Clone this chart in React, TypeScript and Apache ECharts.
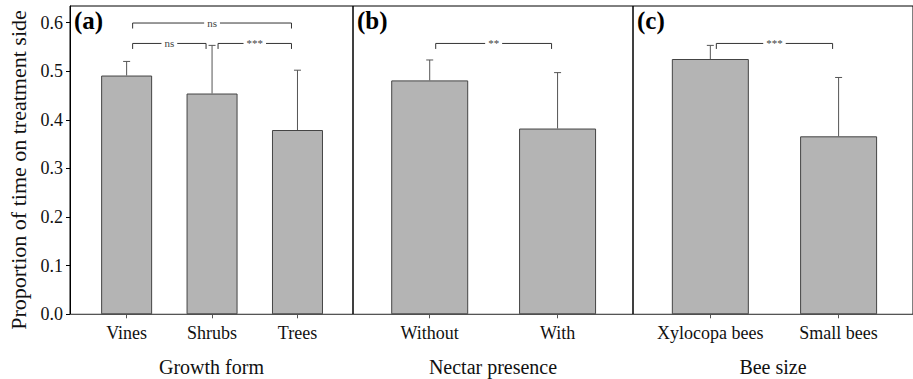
import React, { useEffect, useRef } from "react";
import * as echarts from "echarts";

const yTicks = [0, 0.1, 0.2, 0.3, 0.4, 0.5, 0.6];

const growthCats = ["Vines", "Shrubs", "Trees"];
const growthMeans = [0.491, 0.454, 0.379];
const growthErr = [0.029, 0.099, 0.123];

const nectarCats = ["Without", "With"];
const nectarMeans = [0.481, 0.382];
const nectarErr = [0.042, 0.115];

const beeCats = ["Xylocopa bees", "Small bees"];
const beeMeans = [0.525, 0.366];
const beeErr = [0.028, 0.121];

// [from category (1-based), to category, y level, label]
const growthBrackets: [number, number, number, string][] = [
  [1, 3, 0.599, "ns"],
  [1, 2, 0.557, "ns"],
  [2, 3, 0.557, "***"],
];
const nectarBrackets: [number, number, number, string][] = [[1, 2, 0.557, "**"]];
const beeBrackets: [number, number, number, string][] = [[1, 2, 0.557, "***"]];

const panelLabels = ["(a)", "(b)", "(c)"];
const panelTitles = ["Growth form", "Nectar presence", "Bee size"];
const yName = "Proportion of time on treatment side";

const FONT = "Liberation Serif";

export default function App() {
  const ref = useRef<HTMLDivElement>(null);

  useEffect(() => {
    if (!ref.current) return;
    const chart = echarts.init(ref.current, undefined, { renderer: "svg" });

    const panels = [
      { cats: growthCats, means: growthMeans, err: growthErr, br: growthBrackets, left: 70, width: 283, min: 0.337, max: 3.65, barW: 51 },
      { cats: nectarCats, means: nectarMeans, err: nectarErr, br: nectarBrackets, left: 353, width: 280, min: 0.4, max: 2.59, barW: 77 },
      { cats: beeCats, means: beeMeans, err: beeErr, br: beeBrackets, left: 633, width: 280, min: 0.397, max: 2.58, barW: 77 },
    ];

    const yMax = 0.634;
    const grids: any[] = [];
    const xAxes: any[] = [];
    const yAxes: any[] = [];
    const series: any[] = [];

    panels.forEach((p, i) => {
      grids.push({
        left: p.left,
        top: 6,
        width: p.width,
        height: 308.3,
        show: true,
        borderColor: "#000",
        borderWidth: 1,
        backgroundColor: "transparent",
        containLabel: false,
        outerBoundsMode: "none",
      });
      const ticks = p.cats.map((_, k) => k + 1);
      xAxes.push({
        type: "value",
        gridIndex: i,
        min: p.min,
        max: p.max,
        name: panelTitles[i],
        nameLocation: "middle",
        nameGap: 43,
        nameTextStyle: { fontFamily: FONT, fontSize: 20, color: "#111" },
        axisLine: { show: true, lineStyle: { color: "#555", width: 1 } },
        axisTick: { show: true, customValues: ticks, length: 4, lineStyle: { color: "#555" } },
        axisLabel: {
          show: true,
          customValues: ticks,
          margin: 10,
          fontFamily: FONT,
          fontSize: 18,
          color: "#111",
          formatter: (v: number) => p.cats[Math.round(v) - 1] ?? "",
        },
        splitLine: { show: false },
      });
      yAxes.push({
        type: "value",
        gridIndex: i,
        min: 0,
        max: yMax,
        show: i === 0,
        axisLine: { show: i === 0, lineStyle: { color: "#000" } },
        axisTick: { show: i === 0, customValues: yTicks, length: 4, lineStyle: { color: "#000" } },
        axisLabel: {
          show: i === 0,
          customValues: yTicks,
          margin: 7,
          fontFamily: FONT,
          fontSize: 18,
          color: "#111",
          formatter: (v: number) => v.toFixed(1),
        },
        splitLine: { show: false },
      });

      series.push({
        type: "bar",
        xAxisIndex: i,
        yAxisIndex: i,
        barWidth: p.barW,
        data: p.means.map((m, k) => [k + 1, m]),
        itemStyle: { color: "#b4b4b4", borderColor: "#444", borderWidth: 1 },
        z: 2,
      });

      series.push({
        type: "custom",
        xAxisIndex: i,
        yAxisIndex: i,
        z: 3,
        clip: false,
        data: p.means.map((m, k) => [k + 1, m, m + p.err[k]]),
        encode: { x: 0, y: [1, 2] },
        renderItem: (params: any, api: any) => {
          const x = api.value(0);
          const lo = api.coord([x, api.value(1)]);
          const hi = api.coord([x, api.value(2)]);
          const st = { stroke: "#555", lineWidth: 1 };
          return {
            type: "group",
            children: [
              { type: "line", shape: { x1: lo[0], y1: lo[1], x2: hi[0], y2: hi[1] }, style: st },
              { type: "line", shape: { x1: hi[0] - 3.5, y1: hi[1], x2: hi[0] + 3.5, y2: hi[1] }, style: st },
            ],
          };
        },
      });

      series.push({
        type: "custom",
        xAxisIndex: i,
        yAxisIndex: i,
        z: 4,
        clip: false,
        data: p.br.map((b) => [b[0], b[1], b[2]]),
        encode: { x: [0, 1], y: 2 },
        renderItem: (params: any, api: any) => {
          const a = api.coord([api.value(0), api.value(2)]);
          const b = api.coord([api.value(1), api.value(2)]);
          const x1 = a[0] + 6;
          const x2 = b[0] - 6;
          const y = a[1];
          return {
            type: "group",
            children: [
              {
                type: "polyline",
                shape: { points: [[x1, y + 5.5], [x1, y], [x2, y], [x2, y + 5.5]] },
                style: { stroke: "#333", lineWidth: 1, fill: null },
              },
              {
                type: "text",
                z2: 10,
                style: {
                  text: p.br[params.dataIndex][3],
                  x: (x1 + x2) / 2,
                  y: y,
                  align: "center",
                  verticalAlign: "middle",
                  fill: "#444",
                  fontFamily: FONT,
                  fontSize: 11,
                  backgroundColor: "#fff",
                  padding: [0, 3],
                },
              },
            ],
          };
        },
      });
    });

    const graphics: any[] = panels.map((p, i) => ({
      type: "text",
      left: p.left + 4,
      top: 8,
      style: {
        text: panelLabels[i],
        fontFamily: FONT,
        fontSize: 25,
        fontWeight: "bold",
        fill: "#000",
      },
    }));
    graphics.push({
      type: "text",
      x: 18,
      y: 170,
      rotation: Math.PI / 2,
      style: {
        text: yName,
        fontFamily: FONT,
        fontSize: 22,
        fill: "#111",
        align: "center",
        verticalAlign: "middle",
      },
    });

    chart.setOption({
      animation: false,
      backgroundColor: "#fff",
      grid: grids,
      xAxis: xAxes,
      yAxis: yAxes,
      series,
      graphic: graphics,
    });

    return () => chart.dispose();
  }, []);

  return (
    <div
      ref={ref}
      style={{ position: "fixed", left: 0, top: 0, width: 913, height: 379, background: "#fff" }}
    />
  );
}
